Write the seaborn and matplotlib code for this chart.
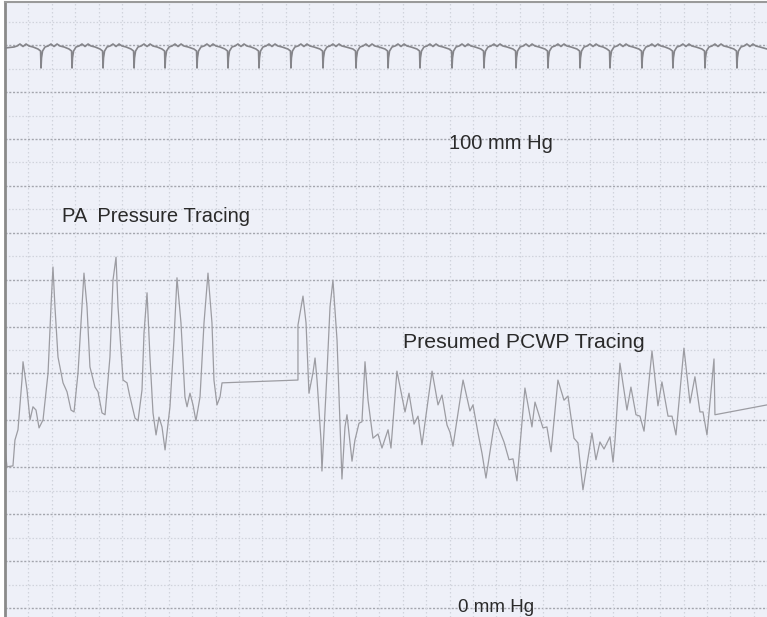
import numpy as np
import pandas as pd
import matplotlib
matplotlib.use('Agg')
import matplotlib.pyplot as plt
import seaborn as sns

# pressure strip (time in s, pressure in mm Hg)
pa_time = [0.000, 0.017, 0.068, 0.085, 0.111, 0.145, 0.154, 0.188, 0.214, 0.239,
           0.265, 0.291, 0.325, 0.368, 0.393, 0.410, 0.427, 0.453, 0.496, 0.530,
           0.564, 0.590, 0.624, 0.658, 0.675, 0.701, 0.726, 0.769, 0.795, 0.829,
           0.855, 0.897, 0.923, 0.949, 0.966, 1.009, 1.043, 1.068, 1.111, 1.137,
           1.171, 1.188, 1.214, 1.239, 1.265, 1.291, 1.316, 1.342, 1.368, 1.410,
           1.444, 1.470, 1.504, 1.538, 1.556, 1.581, 1.607, 1.632, 1.667, 1.701,
           1.735, 1.769, 1.786, 1.812, 1.838, 1.855, 2.504, 2.504, 2.547, 2.573,
           2.598, 2.632, 2.650, 2.667, 2.701, 2.709, 2.752, 2.778, 2.803, 2.838,
           2.863, 2.880, 2.906, 2.923, 2.940, 2.966, 2.991, 3.026, 3.051, 3.077,
           3.103, 3.145, 3.188, 3.222, 3.274, 3.299, 3.350, 3.419, 3.453, 3.496,
           3.530, 3.564, 3.650, 3.701, 3.735, 3.778, 3.803, 3.829, 3.915, 3.974,
           4.000, 4.043, 4.077, 4.111, 4.188, 4.265, 4.308, 4.342, 4.376, 4.444,
           4.504, 4.530, 4.598, 4.632, 4.667, 4.726, 4.778, 4.812, 4.863, 4.897,
           4.940, 5.017, 5.051, 5.085, 5.120, 5.171, 5.197, 5.214, 5.256, 5.316,
           5.350, 5.393, 5.427, 5.462, 5.530, 5.581, 5.615, 5.667, 5.701, 5.735,
           5.803, 5.855, 5.897, 5.940, 5.966, 6.000, 6.060, 6.068, 6.513]
pa_mmhg = [34.0, 30.1, 30.3, 35.8, 38.0, 48.6, 52.5, 46.5, 40.1, 42.9,
           42.2, 38.4, 40.1, 50.1, 64.2, 72.7, 64.2, 53.5, 48.0, 46.1,
           42.2, 41.8, 50.1, 64.2, 71.4, 64.2, 51.4, 47.1, 46.1, 41.6,
           41.2, 53.5, 69.9, 74.8, 64.2, 48.6, 48.0, 45.0, 40.5, 39.9,
           46.5, 58.6, 67.2, 53.5, 41.6, 36.9, 40.7, 38.6, 33.7, 42.9,
           57.1, 70.4, 60.8, 45.0, 42.9, 45.8, 43.3, 39.9, 45.0, 60.8,
           71.4, 60.8, 48.6, 43.3, 45.0, 48.0, 48.6, 60.3, 66.5, 60.8,
           45.8, 50.1, 53.3, 48.6, 35.8, 29.2, 50.1, 64.2, 69.9, 57.1,
           39.4, 27.5, 38.6, 41.2, 37.3, 31.3, 35.8, 39.4, 39.7, 52.5,
           44.3, 36.2, 37.1, 34.1, 38.0, 34.1, 50.5, 41.8, 45.8, 39.2,
           40.9, 34.8, 50.5, 43.3, 45.4, 39.0, 37.5, 34.5, 48.6, 42.0,
           43.3, 37.3, 33.0, 27.7, 40.3, 35.4, 31.6, 31.8, 27.1, 46.9,
           38.6, 43.9, 38.4, 38.6, 33.3, 48.6, 44.3, 45.2, 36.2, 35.2,
           25.2, 37.3, 31.6, 35.4, 33.9, 36.5, 31.1, 35.8, 52.2, 42.2,
           47.1, 41.2, 40.9, 37.7, 54.8, 43.1, 48.2, 40.9, 40.9, 36.9,
           55.4, 43.7, 49.3, 41.8, 41.8, 36.9, 53.1, 41.2, 43.3]

# ecg on top: beat times (s) and the shape of one beat (offset s, mV)
ecg_beats = [0.308, 0.573, 0.838, 1.103, 1.368, 1.641, 1.906, 2.171, 2.444, 2.718,
             3.000, 3.274, 3.547, 3.821, 4.094, 4.368, 4.641, 4.915, 5.171, 5.444,
             5.709, 5.983, 6.256]
beat_dt = [-0.026, -0.004, 0.0, 0.004, 0.013, 0.034, 0.060, 0.085, 0.111, 0.137, 0.162, 0.197]
beat_mv = [-0.1, -0.3, -2.0, -1.0, -0.3, 0.1, 0.2, 0.4, 0.15, 0.4, 0.2, 0.1]

# text, position (s, mm Hg), alignment, size
labels = {'100 mm Hg': (4.24, 99.1, 'center', 14.5),
          'PA  Pressure Tracing': (0.49, 83.4, 'left', 14.5),
          'Presumed PCWP Tracing': (3.40, 56.7, 'left', 15.3),
          '0 mm Hg': (4.20, 0.2, 'center', 13.5)}

pa = pd.DataFrame({'t': pa_time, 'p': pa_mmhg})

ecg_t = [0.0]
ecg_v = [0.0]
first = ecg_beats[0] - (ecg_beats[1] - ecg_beats[0])
for dt, mv in zip(beat_dt, beat_mv):
    if dt > 0.03:
        ecg_t.append(first + dt)
        ecg_v.append(mv)
for b in ecg_beats:
    for dt, mv in zip(beat_dt, beat_mv):
        ecg_t.append(b + dt)
        ecg_v.append(mv)
ecg_t.append(6.513)
ecg_v.append(-0.1)
ecg = pd.DataFrame({'t': ecg_t, 'mv': ecg_v})

sns.set_theme(style='white')
plt.rcParams['font.family'] = ['Liberation Sans', 'DejaVu Sans']

fig = plt.figure(figsize=(7.67, 6.17), dpi=100, facecolor='white')
ax = fig.add_axes([5 / 767, 0, 762 / 767, 615 / 617])
ax.set_facecolor('#eef0f8')
ax.set_xlim(0, 6.513)
ax.set_ylim(-1.92, 129.2)

# paper grid
for v in range(0, 130, 5):
    if v % 10 == 0:
        ax.axhline(v, color='#a4a6ae', lw=1.0, ls=(0, (1.5, 1.2)), zorder=0)
    else:
        ax.axhline(v, color='#d0d3dc', lw=0.9, ls=(0, (1.2, 1.5)), zorder=0)
for t in np.arange(0.2, 6.5, 0.2):
    ax.axvline(t, color='#d0d3dc', lw=0.9, ls=(0, (1.2, 2.0)), zorder=0)

sns.lineplot(data=pa, x='t', y='p', ax=ax, estimator=None, sort=False,
             color='#9c9ca2', lw=0.9)

ax2 = ax.twinx()
ax2.set_ylim(-56.9, 4.6)
sns.lineplot(data=ecg, x='t', y='mv', ax=ax2, estimator=None, sort=False,
             color='#85858a', lw=1.2)
ax2.set_xlim(0, 6.513)

for a in (ax, ax2):
    a.set_xticks([])
    a.set_yticks([])
    a.set_xlabel('')
    a.set_ylabel('')
    for s in a.spines.values():
        s.set_visible(False)
ax.spines['left'].set_visible(True)
ax.spines['top'].set_visible(True)
ax.spines['left'].set_color('#8a8a8a')
ax.spines['top'].set_color('#9a9a9a')
ax.spines['left'].set_linewidth(2)
ax.spines['top'].set_linewidth(1.5)

for txt, (x, y, ha, size) in labels.items():
    ax.text(x, y, txt, ha=ha, va='center', fontsize=size, color='#2a2a2a', zorder=5)

fig.savefig('out.png', dpi=100, facecolor='white')
